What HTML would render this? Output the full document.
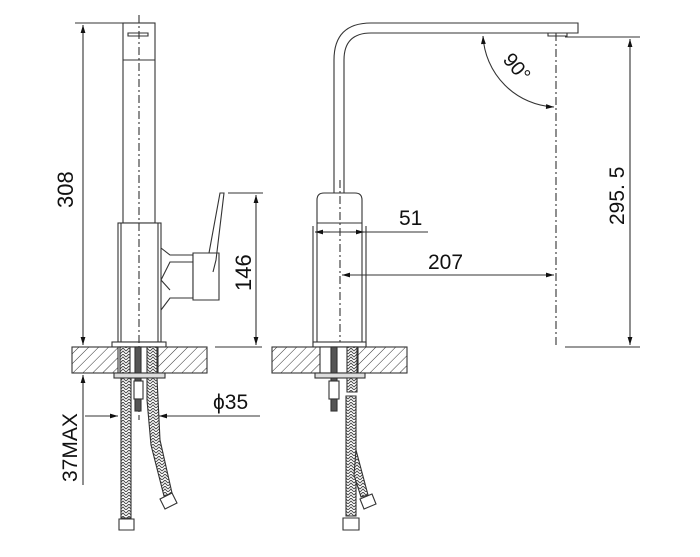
<!DOCTYPE html>
<html><head><meta charset="utf-8"><style>
html,body{margin:0;padding:0;background:#fff}
svg{display:block}
text{font-family:"Liberation Sans",sans-serif;fill:#111}
</style></head><body>
<svg width="700" height="557" viewBox="0 0 700 557" xmlns="http://www.w3.org/2000/svg">
<defs>
<pattern id="h" width="7" height="7" patternUnits="userSpaceOnUse" patternTransform="rotate(45)">
<rect width="7" height="7" fill="#fff"/><line x1="0" y1="0" x2="0" y2="7" stroke="#333" stroke-width="1"/></pattern>
<pattern id="br" width="6" height="6" patternUnits="userSpaceOnUse">
<rect width="6" height="6" fill="#fff"/><path d="M0 3 L3 0 L6 3 M0 6 L3 3 L6 6" stroke="#444" fill="none" stroke-width="0.9"/></pattern>
<marker id="a" viewBox="0 0 10 10" refX="10" refY="5" markerWidth="10" markerHeight="8" orient="auto-start-reverse" markerUnits="userSpaceOnUse"><path d="M0 2 L10 5 L0 8z" fill="#111"/></marker>
</defs>
<g fill="none" stroke="#333" stroke-width="1.1">
<line x1="75" y1="23" x2="155" y2="23"/>
<line x1="83" y1="25" x2="83" y2="345" marker-start="url(#a)" marker-end="url(#a)"/>
<rect x="123" y="23" width="32" height="200" fill="#fff"/>
<line x1="123" y1="60" x2="155" y2="60"/>
<path d="M128 33 h20 v3 h-20z"/>
<rect x="118" y="223" width="43" height="119" fill="#fff"/>
<line x1="121" y1="223" x2="121" y2="342"/><line x1="158" y1="223" x2="158" y2="342"/>
<path d="M161 248 L170 255 L193 255 L193 298 L170 298 L161 310"/>
<path d="M161 280 L170 262 L193 262 M170 290 L161 280"/>
<path d="M193 253 L219 253 L219 300 L193 300 Z" fill="#fff"/>
<path d="M209 253 L220 193 L224 193 L216 260 L213 272"/>
<rect x="112" y="342" width="54" height="5" fill="#fff"/>
<line x1="139" y1="15" x2="139" y2="420" stroke-dasharray="8 3 2 3"/>
<line x1="228" y1="193" x2="263" y2="193"/>
<line x1="215" y1="347" x2="262" y2="347"/>
<line x1="256" y1="195" x2="256" y2="345" marker-start="url(#a)" marker-end="url(#a)"/>
<rect x="72" y="347" width="135" height="26" fill="url(#h)"/>
<rect x="118" y="347" width="40" height="26" fill="#fff"/>
<rect x="120" y="347" width="10" height="26" fill="url(#br)"/>
<rect x="147" y="347" width="10" height="26" fill="url(#br)"/>
<rect x="135" y="347" width="6" height="34" fill="#555"/>
<rect x="114" y="373" width="51" height="5" fill="#ddd"/>
<rect x="134" y="381" width="9" height="18" fill="#fff"/>
<rect x="135" y="399" width="6" height="12" fill="#555"/>
<path d="M121 378 h10 v140 h-10z" fill="url(#br)"/>
<path d="M147 378 h10 L160 440 L172 493 L164 496 L151 445 L147 400 z" fill="url(#br)"/>
<path d="M119 519 h15 v11 h-15z" fill="#fff"/>
<path d="M160 499 l12 -6 l5 10 l-12 6z" fill="#fff"/>
<line x1="83" y1="375" x2="83" y2="485" marker-start="url(#a)"/>
<line x1="85" y1="416" x2="118" y2="416" marker-end="url(#a)"/>
<line x1="260" y1="416" x2="159" y2="416" marker-end="url(#a)"/>
<path d="M334 193 V60 Q334 23 371 23 H578 V33 H371 Q344 33 344 60 V193"/>
<path d="M548 33 h19 v3 h-19z" fill="#fff"/>
<line x1="556" y1="33" x2="556" y2="347" stroke-dasharray="8 3 2 3"/>
<path d="M483 36 A75 75 0 0 0 554 107" marker-start="url(#a)" marker-end="url(#a)"/>
<path d="M317 347 V200 Q317 193 324 193 H355 Q362 193 362 200 V347"/>
<line x1="317" y1="223" x2="362" y2="223"/>
<line x1="313" y1="226" x2="313" y2="347"/><line x1="366" y1="226" x2="366" y2="347"/>
<line x1="340" y1="180" x2="340" y2="347" stroke-dasharray="8 3 2 3"/>
<rect x="313" y="342" width="53" height="5" fill="#fff"/>
<line x1="315" y1="232" x2="428" y2="232"/>
<line x1="330" y1="232" x2="315" y2="232" marker-end="url(#a)"/>
<line x1="350" y1="232" x2="364" y2="232" marker-end="url(#a)"/>
<line x1="342" y1="275" x2="554" y2="275" marker-start="url(#a)" marker-end="url(#a)"/>
<line x1="565" y1="37" x2="640" y2="37"/>
<line x1="565" y1="347" x2="640" y2="347"/>
<line x1="630" y1="39" x2="630" y2="345" marker-start="url(#a)" marker-end="url(#a)"/>
<rect x="272" y="347" width="135" height="26" fill="url(#h)"/>
<rect x="320" y="347" width="38" height="26" fill="#fff"/>
<rect x="347" y="347" width="10" height="26" fill="url(#br)"/>
<rect x="331" y="347" width="6" height="34" fill="#555"/>
<rect x="315" y="373" width="50" height="5" fill="#ddd"/>
<rect x="329" y="381" width="10" height="18" fill="#fff"/>
<rect x="331" y="399" width="6" height="12" fill="#555"/>
<path d="M347 378 h10 v14 h-10z" fill="url(#br)"/>
<path d="M346 396 h10 v120 h-10z" fill="url(#br)"/>
<path d="M356 450 L368 495 L361 497 L354 475z" fill="url(#br)"/>
<path d="M343 518 h16 v12 h-16z" fill="#fff"/>
<path d="M360 499 l12 -5 l4 10 l-12 5z" fill="#fff"/>
</g>
<text x="0" y="0" font-size="22" transform="translate(73,208) rotate(-90)">308</text>
<text x="0" y="0" font-size="22" transform="translate(251,291) rotate(-90)">146</text>
<text x="0" y="0" font-size="21" transform="translate(77,482) rotate(-90)">37MAX</text>
<text x="213" y="409" font-size="21">ϕ35</text>
<text x="399" y="225" font-size="21">51</text>
<text x="428" y="269" font-size="21">207</text>
<text x="0" y="0" font-size="21" transform="translate(624,225) rotate(-90)">295. 5</text>
<text x="0" y="0" font-size="20" transform="translate(502,60) rotate(50)">90°</text>
</svg>
</body></html>
